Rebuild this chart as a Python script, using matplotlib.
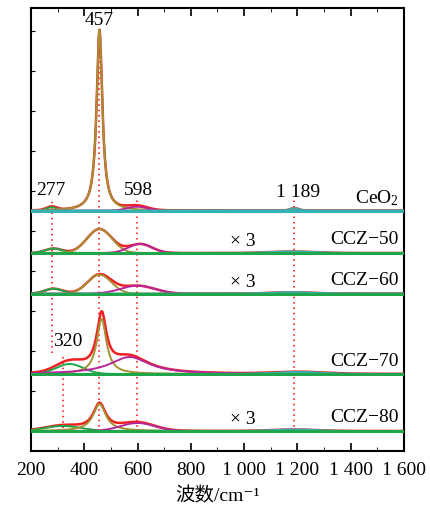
import numpy as np
import matplotlib.pyplot as plt

plt.rcParams['font.family'] = ['Liberation Serif', 'Noto Sans CJK SC', 'DejaVu Serif']
plt.rcParams['mathtext.fontset'] = 'custom'
plt.rcParams['mathtext.rm'] = 'Liberation Serif'
plt.rcParams['mathtext.it'] = 'Liberation Serif:italic'

# x axis
x_ticks = [200, 400, 600, 800, 1000, 1200, 1400, 1600]
x_ticklabels = ['200', '400', '600', '800', '1 000', '1 200', '1 400', '1 600']

samples = ['CeO$_\\mathrm{2}$', 'CCZ\u221250', 'CCZ\u221260', 'CCZ\u221270', 'CCZ\u221280']
offsets = [240.3, 198.0, 157.3, 77.0, 20.0]
scale_text = ['', '\u00d7 3', '\u00d7 3', '', '\u00d7 3']

# fitted components: (centre, height, fwhm, shape)
# shape 'L' = Lorentzian, 'G' = Gaussian
comp_green = [(277, 3.5, 45, 'G'), (285, 4.5, 75, 'G'), (285, 5.0, 80, 'G'),
              (345, 10.0, 120, 'G'), (320, 5.0, 160, 'G')]
comp_olive = [(457, 181.0, 26, 'L'), (457, 24.0, 110, 'G'), (457, 19.0, 105, 'G'),
              (465, 55.0, 44, 'L'), (457, 27.0, 58, 'L')]
comp_mag = [(598, 4.0, 90, 'G'), (610, 9.0, 105, 'G'), (600, 8.0, 150, 'G'),
            (570, 17.0, 180, 'L'), (600, 8.0, 150, 'G')]
comp_cyan = [(1189, 2.5, 40, 'G'), (1180, 1.5, 200, 'G'), (1180, 1.5, 200, 'G'),
             (1200, 2.0, 220, 'G'), (1189, 1.5, 200, 'G')]

# marked bands (cm-1) and dotted guide spans (data units)
band_pos = [277, 457, 598, 1189, 320]
band_span = [(98, 251), (19, 421), (19, 251), (19, 251), (23, 94)]
band_text = ['277', '457', '598', '1 189', '320']
band_text_xy = [(275, 261), (457, 431), (605, 261), (1202, 259), (337, 109)]

c_green = '#1fa64a'
c_olive = '#a39133'
c_mag = '#b5289c'
c_cyan = '#35b3b3'
c_red = '#f02020'


def peak(x, c, h, w, shape):
    if shape == 'L':
        return h / (1 + ((x - c) / (w / 2)) ** 2)
    s = w / 2.3548
    return h * np.exp(-0.5 * ((x - c) / s) ** 2)


fig = plt.figure(figsize=(4.31, 5.08), dpi=100)
ax = fig.add_axes([31 / 431, 57 / 508, 373 / 431, 443 / 508])

x = np.linspace(200, 1600, 2800)
for i, off in enumerate(offsets):
    comps = [comp_green[i], comp_olive[i], comp_mag[i], comp_cyan[i]]
    cols = [c_green, c_olive, c_mag, c_cyan]
    ys = [peak(x, *p) for p in comps]
    ax.plot(x, off + sum(ys), color=c_red, lw=1.8, zorder=3)
    for y, col in zip(ys, cols):
        ax.plot(x, off + y, color=col, lw=1.4, zorder=4)
    ax.axhline(off - 0.6, color='#a0a0a0', lw=1.2, zorder=2)
    base_col = c_cyan if i == 0 else c_green
    ax.axhline(off, color=base_col, lw=2.2, zorder=5)
    ax.text(1580, off + 13, samples[i], ha='right', va='center', fontsize=14)
    if scale_text[i]:
        ax.text(995, off + 11, scale_text[i], ha='center', va='center', fontsize=14)

for pos, (y0, y1) in zip(band_pos, band_span):
    ax.plot([pos, pos], [y0, y1], color='red', ls=(0, (1, 2.5)), lw=1.1, zorder=1)
for t, (tx, ty) in zip(band_text, band_text_xy):
    ax.text(tx, ty, t, ha='center', va='center', fontsize=14)

ax.set_xlim(200, 1600)
ax.set_ylim(0, 443)
ax.set_xticks(x_ticks)
ax.set_xticklabels(x_ticklabels, fontsize=14)
ax.set_xticks(np.arange(200, 1601, 100), minor=True)
ax.set_yticks(np.arange(20, 443, 40))
ax.set_yticklabels([])
ax.tick_params(axis='x', which='major', direction='in', length=6, width=1.2,
               top=True, pad=8)
ax.tick_params(axis='x', which='minor', direction='in', length=3, top=True)
ax.tick_params(axis='y', direction='in', length=3, right=False)
for sp in ax.spines.values():
    sp.set_linewidth(1.5)
ax.set_xlabel('波数/cm\u207b\u00b9', fontsize=14, labelpad=6)

fig.savefig('out.png', dpi=100)
